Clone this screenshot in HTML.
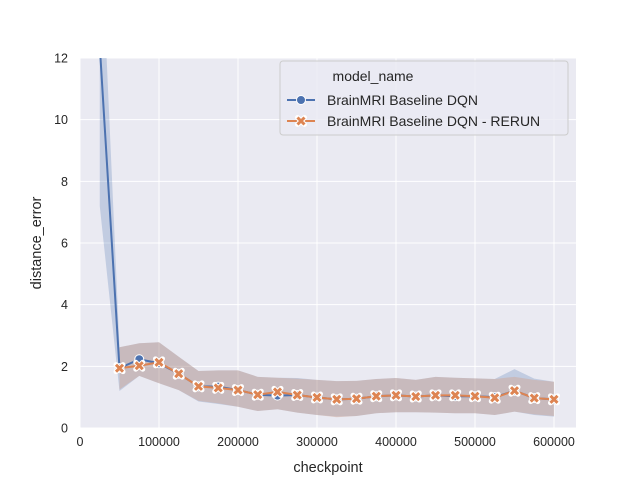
<!DOCTYPE html>
<html><head><meta charset="utf-8"><style>
body{margin:0;background:#fff;font-family:"Liberation Sans",sans-serif}
svg text{font-family:"Liberation Sans",sans-serif;fill:#262626}
</style></head><body>
<svg id="chart" width="640" height="480"></svg>
<script>
const checkpoints=[25000,50000,75000,100000,125000,150000,175000,200000,225000,250000,275000,300000,325000,350000,375000,400000,425000,450000,475000,500000,525000,550000,575000,600000];
const blueMean=[12.4,1.94,2.23,2.10,1.76,1.35,1.34,1.23,1.08,1.05,1.07,0.99,0.93,0.95,1.03,1.06,1.02,1.06,1.03,1.03,1.00,1.21,0.97,0.93];
const blueLow=[7.2,1.2,1.69,1.45,1.23,0.86,0.78,0.69,0.55,0.61,0.50,0.42,0.37,0.39,0.48,0.51,0.51,0.50,0.48,0.48,0.42,0.53,0.42,0.37];
const blueHigh=[17,2.62,2.75,2.78,2.31,1.85,1.87,1.87,1.66,1.63,1.62,1.56,1.52,1.53,1.59,1.62,1.56,1.66,1.63,1.61,1.59,1.91,1.60,1.50];
const orangeX=checkpoints.slice(1);
const orangeMean=[1.94,2.02,2.13,1.76,1.35,1.30,1.23,1.08,1.17,1.07,0.99,0.93,0.95,1.03,1.06,1.02,1.06,1.06,1.03,0.98,1.21,0.97,0.93];
const orangeLow=[1.25,1.69,1.45,1.23,0.88,0.80,0.69,0.55,0.61,0.50,0.42,0.35,0.39,0.48,0.51,0.51,0.50,0.48,0.48,0.42,0.53,0.44,0.39];
const orangeHigh=[2.62,2.75,2.78,2.31,1.85,1.87,1.87,1.66,1.63,1.60,1.56,1.52,1.53,1.59,1.62,1.56,1.66,1.63,1.61,1.59,1.66,1.56,1.50];
const xTicks=[0,100000,200000,300000,400000,500000,600000];
const yTicks=[0,2,4,6,8,10,12];
const L=80,R=576,T=58,B=428;
const xs=v=>L+v/100000*79;
const ys=v=>B-(v/12)*(B-T);
const NS='http://www.w3.org/2000/svg';
const svg=document.getElementById('chart');
function mk(tag,attrs,parent){const e=document.createElementNS(NS,tag);for(const k in attrs)e.setAttribute(k,attrs[k]);(parent||svg).appendChild(e);return e;}
const bg=mk('rect',{x:L,y:T,width:R-L,height:B-T,fill:'#eaeaf2'});


const defs=mk('defs',{});const cp=mk('clipPath',{id:'c'},defs);mk('rect',{x:L,y:T,width:R-L,height:B-T},cp);
xTicks.forEach(t=>{const x=xs(t);
 const g=mk('line',{x1:x,x2:x,y1:T,y2:B,stroke:'#fff','stroke-width':1});
 
 
 const tx=mk('text',{x:x,y:B+18,'text-anchor':'middle','font-size':12.5});tx.textContent=t;
 
 });
yTicks.forEach(t=>{const y=ys(t);
 const g=mk('line',{x1:L,x2:R,y1:y,y2:y,stroke:'#fff','stroke-width':1});
 
 
 const tx=mk('text',{x:L-12,y:y+4.5,'text-anchor':'end','font-size':12.5});tx.textContent=t;
 
 });
const plot=mk('g',{'clip-path':'url(#c)'});


function band(xv,lo,hi,color,name){
 let d='M'+xv.map((x,i)=>xs(x)+','+ys(hi[i])).join('L')+'L'+xv.map((x,i)=>xs(x)+','+ys(lo[i])).reverse().join('L')+'Z';
 const p=mk('path',{d:d,fill:color,'fill-opacity':0.25,stroke:'none'},plot);
 
 }
function line(xv,m,color,name){
 const p=mk('polyline',{points:xv.map((x,i)=>xs(x)+','+ys(m[i])).join(' '),fill:'none',stroke:color,'stroke-width':2},plot);
 
 }
band(checkpoints,blueLow,blueHigh,'#4c72b0','blue-ci-band');
band(orangeX,orangeLow,orangeHigh,'#dd8452','orange-ci-band');
line(checkpoints,blueMean,'#4c72b0','blue-line');
line(orangeX,orangeMean,'#dd8452','orange-line');
function xmark(cx,cy,parent,s){
 const d=`M${cx-s},${cy-s}L${cx+s},${cy+s}M${cx+s},${cy-s}L${cx-s},${cy+s}`;
 mk('path',{d:d,stroke:'#fff','stroke-width':5,'stroke-linecap':'round'},parent);
 return mk('path',{d:d,stroke:'#dd8452','stroke-width':3},parent);}
checkpoints.forEach((x,i)=>{if(i===0)return;
 const c=mk('circle',{cx:xs(x),cy:ys(blueMean[i]),r:4.5,fill:'#4c72b0',stroke:'#fff','stroke-width':1},plot);
 
 });
orangeX.forEach((x,i)=>{const m=xmark(xs(x),ys(orangeMean[i]),plot,3.5);
 
 });
const xl=mk('text',{x:(L+R)/2,y:472,'text-anchor':'middle','font-size':14.5});xl.textContent='checkpoint';


const yl=mk('text',{x:0,y:0,'text-anchor':'middle','font-size':14.5,transform:`translate(41,${(T+B)/2}) rotate(-90)`});yl.textContent='distance_error';


const lg=mk('g',{});


mk('rect',{x:280,y:61,width:288,height:74,rx:3,fill:'#eaeaf2','fill-opacity':0.8,stroke:'#ccc','stroke-width':1},lg);
const lt=mk('text',{x:373,y:81,'text-anchor':'middle','font-size':14},lg);lt.textContent='model_name';


const e1=mk('g',{},lg);


mk('line',{x1:287,x2:315,y1:100,y2:100,stroke:'#4c72b0','stroke-width':2},e1);
mk('circle',{cx:301,cy:100,r:4.5,fill:'#4c72b0',stroke:'#fff'},e1);
const t1=mk('text',{x:327,y:105,'font-size':14},e1);t1.textContent='BrainMRI Baseline DQN';
const e2=mk('g',{},lg);


mk('line',{x1:287,x2:315,y1:121,y2:121,stroke:'#dd8452','stroke-width':2},e2);
xmark(301,121,e2,3.5);
const t2=mk('text',{x:327,y:126,'font-size':14},e2);t2.textContent='BrainMRI Baseline DQN - RERUN';
</script>
</body></html>
